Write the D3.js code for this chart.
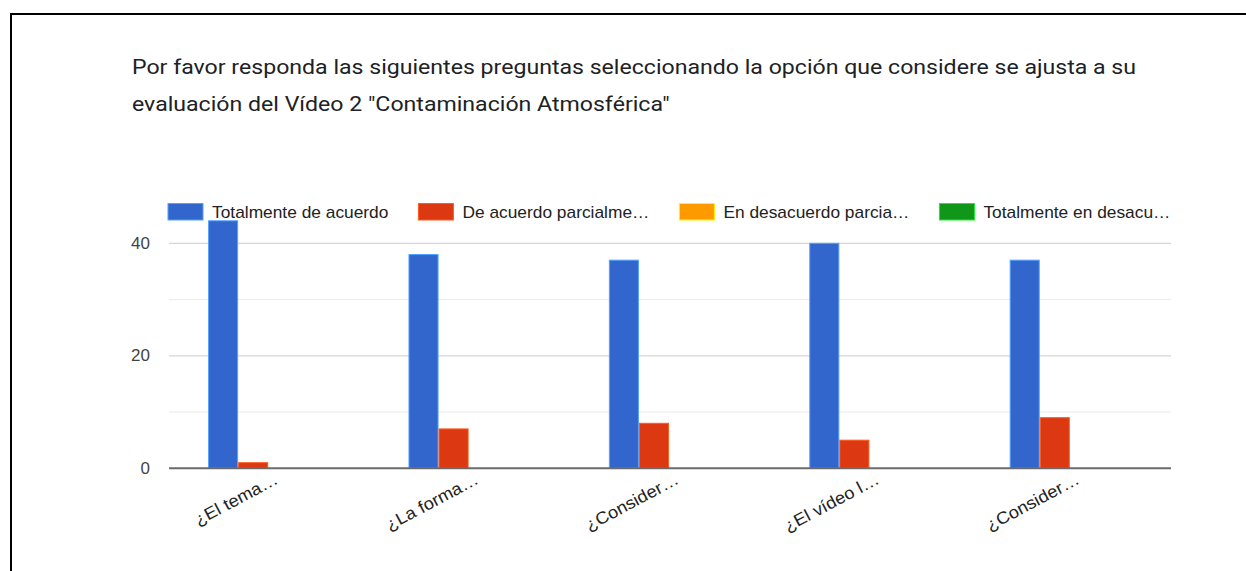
<!DOCTYPE html>
<html><head><meta charset="utf-8">
<script src="https://cdn.jsdelivr.net/npm/d3@7"></script>
<style>html,body{margin:0;padding:0;background:#fff;}svg{display:block;}</style>
</head><body>
<svg id="c" width="1246" height="571"></svg>
<script>
const titleLines = ["Por favor responda las siguientes preguntas seleccionando la opción que considere se ajusta a su",
  "evaluación del Vídeo 2 \"Contaminación Atmosférica\""];
const categories = ["¿El tema…", "¿La forma…", "¿Consider…", "¿El vídeo l…", "¿Consider…"];
const seriesNames = ["Totalmente de acuerdo", "De acuerdo parcialme…", "En desacuerdo parcia…", "Totalmente en desacu…"];
const seriesColors = ["#3366cc", "#dc3912", "#ff9900", "#109618"];
const totalmenteDeAcuerdo = [44, 38, 37, 40, 37];
const deAcuerdoParcialmente = [1, 7, 8, 5, 9];
const enDesacuerdoParcialmente = [0, 0, 0, 0, 0];
const totalmenteEnDesacuerdo = [0, 0, 0, 0, 0];
const seriesValues = [totalmenteDeAcuerdo, deAcuerdoParcialmente, enDesacuerdoParcialmente, totalmenteEnDesacuerdo];
const majorTicks = [0, 20, 40];
const minorTicks = [10, 30];

const svg = d3.select("#c");
// frame
svg.append("path").attr("d", "M11,600 L11,14 L1250,14").attr("fill","none").attr("stroke","#000").attr("stroke-width",2);

// title (horizontally stretched, as in the reference)
const title = svg.append("g");
const tNodes = titleLines.map((t, i) => title.append("text").attr("x", 132).attr("y", 74 + i*37)
    .attr("font-family", "Roboto, 'Noto Sans', sans-serif").attr("font-size", 21)
    .attr("fill", "#202124").text(t));
const tf = 1004 / tNodes[0].node().getComputedTextLength();
tNodes.forEach(n => {
  const w = n.node().getComputedTextLength();
  n.attr("textLength", w * tf).attr("lengthAdjust", "spacingAndGlyphs");
});

const left = 169, right = 1171;
const x0 = d3.scaleBand().domain(categories.map((c,i)=>i)).range([left, right]);
const bw = x0.bandwidth();
const x1 = d3.scaleBand().domain(d3.range(seriesNames.length)).range([bw*0.195, bw*0.795]);
const y = d3.scaleLinear().domain([0, 40]).range([468.3, 243.3]);

// gridlines
svg.append("g").selectAll("line").data(minorTicks).join("line")
  .attr("x1", left).attr("x2", right).attr("y1", d=>y(d)).attr("y2", d=>y(d))
  .attr("stroke", "#ececec").attr("stroke-width", 1);
svg.append("g").selectAll("line").data(majorTicks.filter(d=>d!==0)).join("line")
  .attr("x1", left).attr("x2", right).attr("y1", d=>y(d)).attr("y2", d=>y(d))
  .attr("stroke", "#d6d6d6").attr("stroke-width", 1.3);

// y tick labels
svg.append("g").selectAll("text").data(majorTicks).join("text")
  .attr("x", 150).attr("y", d=>y(d)).attr("text-anchor","end").attr("dominant-baseline","central")
  .attr("font-family","'Liberation Sans', Arial, sans-serif").attr("font-size", 17).attr("fill","#444")
  .text(d=>d);

// bars
const groups = svg.append("g").selectAll("g").data(categories.map((c,i)=>i)).join("g")
  .attr("transform", i=>`translate(${x0(i)},0)`);
groups.selectAll("rect").data(i => seriesValues.map((vals, s) => ({s, v: vals[i]})).filter(d=>d.v>0)).join("rect")
  .attr("x", d=>x1(d.s)+0.5).attr("width", x1.bandwidth()-1)
  .attr("y", d=>y(d.v)).attr("height", d=>y(0)-y(d.v))
  .attr("fill", d=>seriesColors[d.s])
  .attr("stroke", d=>d3.color(seriesColors[d.s]).brighter(1.3)).attr("stroke-width", 1);

// baseline
svg.append("line").attr("x1", left).attr("x2", right).attr("y1", y(0)).attr("y2", y(0))
  .attr("stroke", "#6b6b6b").attr("stroke-width", 2);

// x labels
svg.append("g").selectAll("text").data(categories).join("text")
  .attr("transform", (d,i)=>`translate(${x0(i)+bw/2+10},${483}) rotate(-28) scale(1.08,1)`)
  .attr("text-anchor","end")
  .attr("font-family","'Liberation Sans', Arial, sans-serif").attr("font-size", 17).attr("fill","#222")
  .text(d=>d);

// legend
const lg = svg.append("g");
let lx = 168;
seriesNames.forEach((n, i) => {
  lg.append("rect").attr("x", lx).attr("y", 203.5).attr("width", 35).attr("height", 16.5)
    .attr("fill", seriesColors[i]).attr("stroke", d3.color(seriesColors[i]).brighter(1.3)).attr("stroke-width",1);
  const t = lg.append("text").attr("x", lx + 44).attr("y", 212).attr("dominant-baseline","central")
    .attr("font-family","'Liberation Sans', Arial, sans-serif").attr("font-size", 17).attr("fill","#222").text(n);
  const w = t.node().getComputedTextLength() * 1.02;
  t.attr("textLength", w).attr("lengthAdjust", "spacingAndGlyphs");
  lx = lx + 44 + w + 30;
});
</script>
</body></html>
